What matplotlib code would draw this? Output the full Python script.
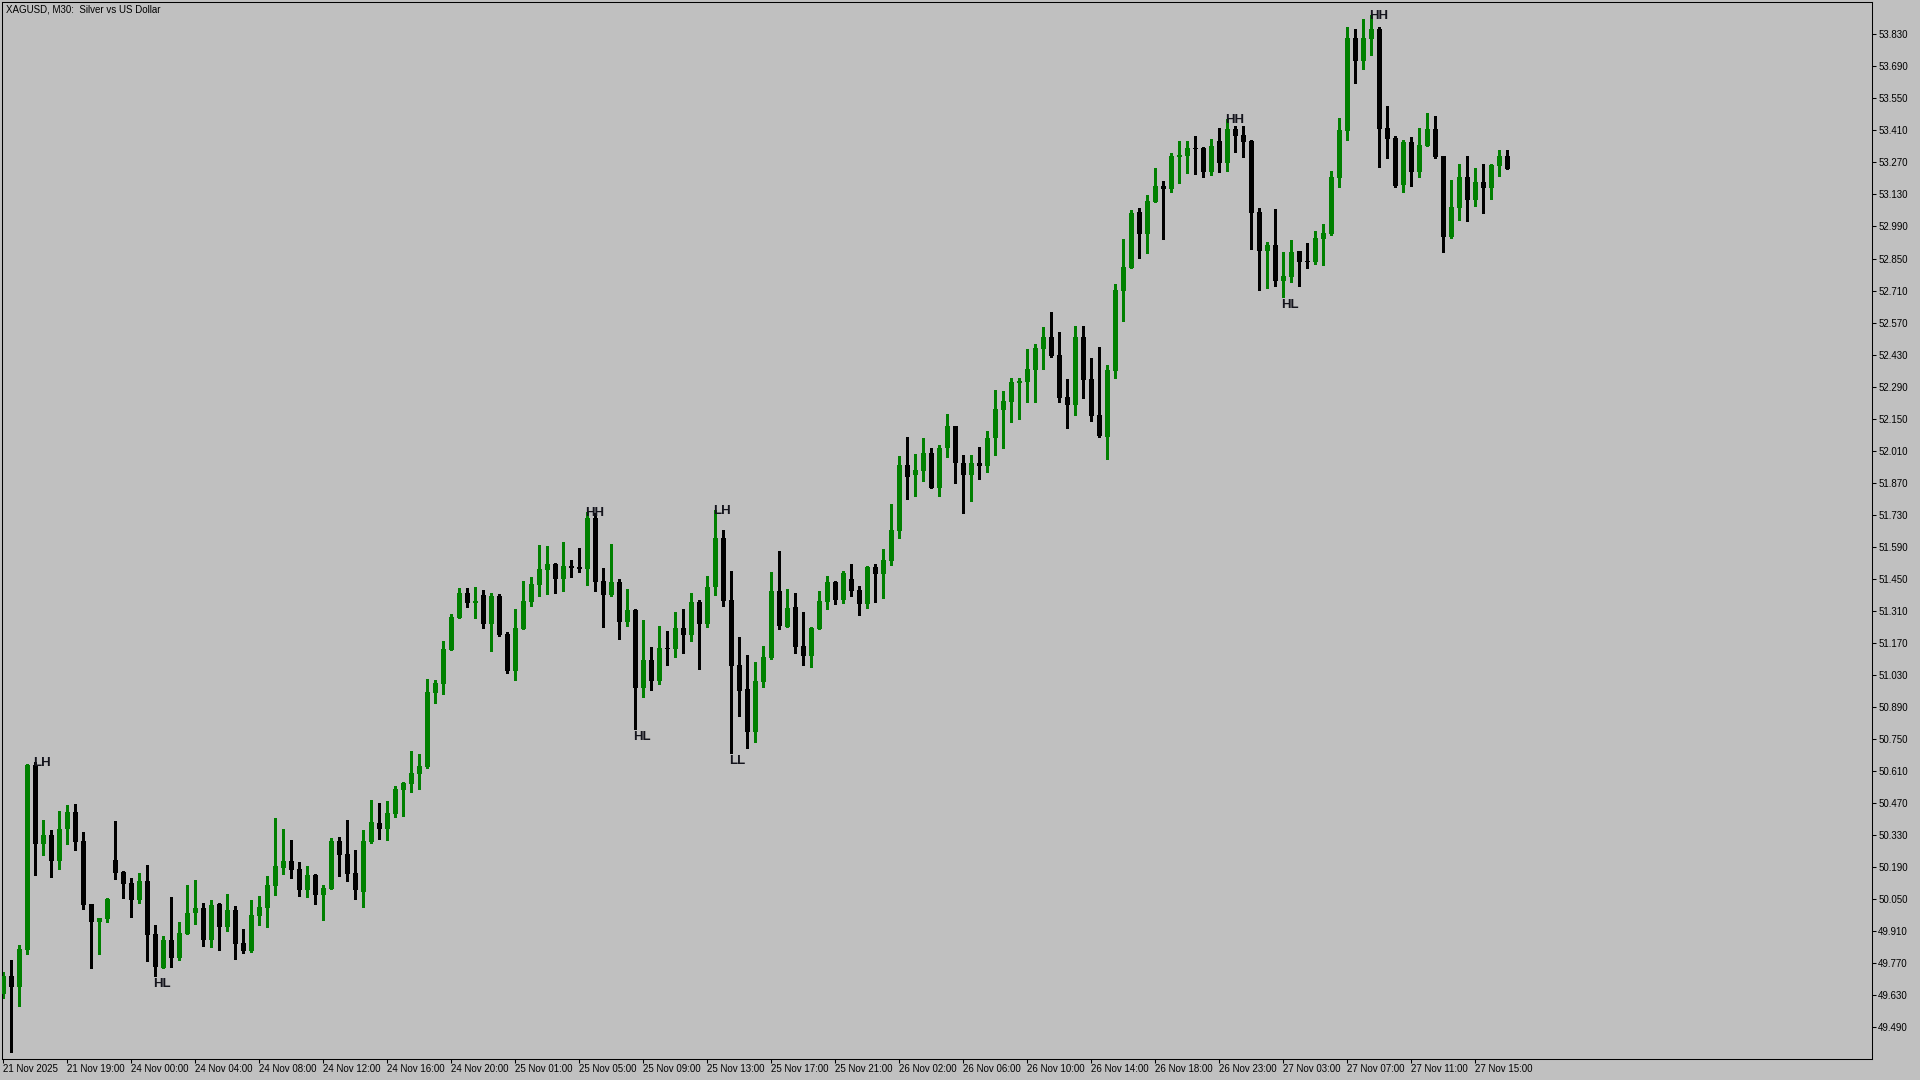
import numpy as np
import matplotlib
matplotlib.use('Agg')
import matplotlib.pyplot as plt
from matplotlib import font_manager

# XAGUSD M30 bars, 21 Nov 15:00 .. 27 Nov 17:00
opens = [49.635, 49.714, 49.668, 49.828, 50.637, 50.293, 50.331, 50.217, 50.357, 50.431,
         50.304, 50.029, 49.952, 49.963, 50.221, 50.169, 50.122, 50.046, 50.129, 49.898,
         49.750, 49.872, 49.794, 49.898, 49.990, 50.011, 49.873, 50.029, 49.930, 50.003,
         49.860, 49.825, 49.977, 50.011, 50.107, 50.186, 50.217, 50.182, 50.090, 50.156,
         50.068, 50.095, 50.304, 50.248, 50.164, 50.081, 50.300, 50.383, 50.357, 50.422,
         50.527, 50.553, 50.597, 50.628, 50.951, 50.990, 51.140, 51.279, 51.388, 51.345,
         51.379, 51.253, 51.375, 51.209, 51.047, 51.231, 51.349, 51.423, 51.489, 51.515,
         51.449, 51.506, 51.502, 51.493, 51.716, 51.441, 51.379, 51.436, 51.262, 51.314,
         50.973, 51.095, 51.004, 51.148, 51.144, 51.235, 51.205, 51.349, 51.253, 51.414,
         51.629, 51.358, 51.074, 50.969, 50.781, 51.000, 51.104, 51.397, 51.240, 51.327,
         51.157, 51.113, 51.231, 51.349, 51.436, 51.358, 51.449, 51.401, 51.340, 51.502,
         51.471, 51.528, 51.659, 51.948, 51.904, 51.921, 52.000, 51.848, 52.022, 52.118,
         51.955, 51.905, 51.955, 51.942, 52.064, 52.188, 52.223, 52.306, 52.310, 52.363,
         52.455, 52.507, 52.429, 52.245, 52.210, 52.507, 52.324, 52.166, 52.070, 52.359,
         52.708, 52.809, 53.053, 52.957, 53.098, 53.166, 53.155, 53.295, 53.299, 53.334,
         53.333, 53.228, 53.364, 53.268, 53.416, 53.390, 53.364, 53.053, 52.884, 52.909,
         52.752, 52.770, 52.883, 52.839, 52.835, 52.936, 52.957, 53.202, 53.407, 53.814,
         53.713, 53.809, 53.853, 53.421, 53.377, 53.171, 53.359, 53.228, 53.342, 53.416,
         53.298, 52.944, 53.071, 53.206, 53.106, 53.185, 53.158, 53.254, 53.298]
highs = [49.730, 49.784, 49.850, 50.640, 50.651, 50.396, 50.352, 50.436, 50.462, 50.466,
         50.342, 50.031, 49.970, 50.055, 50.392, 50.172, 50.141, 50.166, 50.200, 49.937,
         49.889, 50.058, 49.952, 50.112, 50.134, 50.033, 50.046, 50.033, 50.073, 50.020,
         49.920, 50.046, 50.064, 50.151, 50.405, 50.357, 50.309, 50.212, 50.195, 50.160,
         50.112, 50.317, 50.322, 50.396, 50.265, 50.352, 50.483, 50.470, 50.479, 50.545,
         50.562, 50.698, 50.685, 51.013, 51.008, 51.178, 51.297, 51.410, 51.410, 51.414,
         51.401, 51.388, 51.384, 51.218, 51.318, 51.441, 51.458, 51.598, 51.594, 51.519,
         51.611, 51.532, 51.585, 51.742, 51.738, 51.498, 51.602, 51.449, 51.406, 51.320,
         51.270, 51.152, 51.244, 51.222, 51.305, 51.318, 51.388, 51.358, 51.462, 51.751,
         51.664, 51.484, 51.196, 51.117, 51.087, 51.157, 51.480, 51.572, 51.406, 51.388,
         51.305, 51.240, 51.397, 51.462, 51.441, 51.484, 51.515, 51.419, 51.506, 51.515,
         51.580, 51.777, 51.987, 52.070, 51.996, 52.066, 52.022, 52.035, 52.171, 52.120,
         51.990, 51.990, 52.025, 52.095, 52.276, 52.271, 52.328, 52.328, 52.455, 52.477,
         52.551, 52.616, 52.529, 52.324, 52.555, 52.555, 52.415, 52.463, 52.385, 52.739,
         52.935, 53.062, 53.071, 53.128, 53.244, 53.188, 53.310, 53.364, 53.364, 53.386,
         53.338, 53.373, 53.421, 53.460, 53.429, 53.429, 53.368, 53.071, 52.922, 53.067,
         52.879, 52.931, 52.885, 52.918, 52.970, 53.001, 53.233, 53.464, 53.862, 53.853,
         53.897, 53.914, 53.862, 53.517, 53.386, 53.368, 53.381, 53.421, 53.486, 53.473,
         53.300, 53.193, 53.263, 53.298, 53.246, 53.263, 53.263, 53.324, 53.324]
lows = [49.620, 49.384, 49.585, 49.810, 50.156, 50.243, 50.148, 50.182, 50.293, 50.265,
        50.007, 49.751, 49.810, 49.950, 50.138, 50.055, 49.973, 50.035, 49.780, 49.716,
        49.750, 49.755, 49.784, 49.898, 49.943, 49.847, 49.842, 49.829, 49.912, 49.790,
        49.816, 49.820, 49.938, 49.930, 50.068, 50.160, 50.143, 50.064, 50.060, 50.029,
        49.959, 50.095, 50.151, 50.129, 50.051, 50.016, 50.296, 50.313, 50.309, 50.409,
        50.414, 50.518, 50.532, 50.624, 50.908, 50.947, 51.140, 51.279, 51.327, 51.280,
        51.235, 51.135, 51.200, 51.040, 51.008, 51.230, 51.332, 51.375, 51.384, 51.388,
        51.397, 51.458, 51.480, 51.423, 51.397, 51.240, 51.375, 51.187, 51.244, 50.794,
        50.934, 50.964, 50.990, 51.074, 51.109, 51.126, 51.178, 51.056, 51.240, 51.379,
        51.331, 50.689, 50.851, 50.711, 50.737, 50.978, 51.100, 51.231, 51.240, 51.126,
        51.074, 51.065, 51.230, 51.318, 51.340, 51.345, 51.375, 51.292, 51.323, 51.349,
        51.367, 51.511, 51.629, 51.799, 51.812, 51.878, 51.847, 51.813, 51.984, 51.870,
        51.739, 51.792, 51.888, 51.918, 51.991, 52.022, 52.136, 52.149, 52.223, 52.223,
        52.367, 52.420, 52.223, 52.110, 52.166, 52.240, 52.140, 52.070, 51.974, 52.328,
        52.577, 52.809, 52.852, 52.874, 53.095, 52.934, 53.142, 53.180, 53.224, 53.219,
        53.208, 53.215, 53.228, 53.233, 53.316, 53.294, 52.892, 52.713, 52.721, 52.730,
        52.682, 52.748, 52.730, 52.809, 52.826, 52.822, 52.953, 53.163, 53.368, 53.617,
        53.678, 53.740, 53.250, 53.289, 53.163, 53.141, 53.167, 53.206, 53.340, 53.289,
        52.879, 52.940, 53.018, 53.014, 53.080, 53.049, 53.110, 53.211, 53.240]
closes = [49.714, 49.668, 49.832, 50.637, 50.293, 50.331, 50.217, 50.357, 50.431, 50.301,
          50.025, 49.952, 49.968, 50.051, 50.166, 50.116, 50.046, 50.129, 49.894, 49.755,
          49.872, 49.794, 49.902, 49.990, 50.011, 49.873, 50.025, 49.930, 50.003, 49.855,
          49.825, 49.981, 50.016, 50.112, 50.195, 50.217, 50.178, 50.090, 50.156, 50.068,
          50.099, 50.304, 50.243, 50.160, 50.090, 50.304, 50.387, 50.357, 50.427, 50.532,
          50.558, 50.602, 50.632, 50.956, 50.995, 51.144, 51.283, 51.388, 51.345, 51.353,
          51.253, 51.375, 51.205, 51.047, 51.235, 51.353, 51.428, 51.493, 51.515, 51.449,
          51.506, 51.498, 51.493, 51.716, 51.436, 51.379, 51.436, 51.262, 51.314, 50.973,
          51.095, 51.004, 51.148, 51.144, 51.235, 51.205, 51.349, 51.253, 51.414, 51.629,
          51.353, 51.069, 50.960, 50.781, 51.004, 51.109, 51.397, 51.244, 51.323, 51.152,
          51.113, 51.235, 51.353, 51.436, 51.358, 51.476, 51.397, 51.340, 51.502, 51.471,
          51.532, 51.664, 51.948, 51.895, 51.926, 52.000, 51.848, 52.022, 52.118, 51.955,
          51.905, 51.955, 51.942, 52.064, 52.192, 52.227, 52.310, 52.315, 52.367, 52.459,
          52.507, 52.424, 52.240, 52.210, 52.507, 52.319, 52.162, 52.074, 52.363, 52.712,
          52.813, 53.049, 52.957, 53.101, 53.166, 53.155, 53.297, 53.301, 53.333, 53.330,
          53.228, 53.342, 53.268, 53.416, 53.386, 53.359, 53.049, 52.884, 52.909, 52.752,
          52.774, 52.879, 52.835, 52.834, 52.940, 52.962, 53.206, 53.412, 53.814, 53.713,
          53.814, 53.853, 53.416, 53.373, 53.167, 53.359, 53.228, 53.346, 53.416, 53.294,
          52.944, 53.075, 53.206, 53.106, 53.185, 53.158, 53.259, 53.298, 53.241]

time_labels = ['21 Nov 2025', '21 Nov 19:00', '24 Nov 00:00', '24 Nov 04:00', '24 Nov 08:00',
               '24 Nov 12:00', '24 Nov 16:00', '24 Nov 20:00', '25 Nov 01:00', '25 Nov 05:00',
               '25 Nov 09:00', '25 Nov 13:00', '25 Nov 17:00', '25 Nov 21:00', '26 Nov 02:00',
               '26 Nov 06:00', '26 Nov 10:00', '26 Nov 14:00', '26 Nov 18:00', '26 Nov 23:00',
               '27 Nov 03:00', '27 Nov 07:00', '27 Nov 11:00', '27 Nov 15:00']

# swing labels: bar index, text, which end of the bar
swing_bar = [4, 19, 73, 79, 89, 91, 153, 160, 171]
swing_text = ['LH', 'HL', 'HH', 'HL', 'LH', 'LL', 'HH', 'HL', 'HH']
swing_side = ['high', 'low', 'high', 'low', 'high', 'low', 'high', 'low', 'high']

title = 'XAGUSD, M30:  Silver vs US Dollar'


def pick_font():
    for name in ['Liberation Sans Narrow', 'Liberation Sans']:
        try:
            font_manager.findfont(font_manager.FontProperties(family=name),
                                  fallback_to_default=False)
            return name
        except ValueError:
            pass
    return 'DejaVu Sans'


def main():
    font = pick_font()
    narrow = font.endswith('Narrow')
    small = 7.7 if narrow else 7.0
    mark = 11.0 if narrow else 9.5
    plt.rcParams['font.family'] = [font, 'DejaVu Sans']

    bg = '#c0c0c0'
    up_col = '#008000'
    dn_col = '#000000'

    fig = plt.figure(figsize=(19.2, 10.8), dpi=100, facecolor=bg)
    ax = fig.add_axes([2 / 1920, 21 / 1080, 1870 / 1920, 1057 / 1080])
    ax.set_facecolor(bg)

    o = np.array(opens)
    h = np.array(highs)
    l = np.array(lows)
    c = np.array(closes)
    x = np.arange(len(o))
    cols = [up_col if cc >= oo else dn_col for oo, cc in zip(o, c)]

    # wicks then bodies
    ax.vlines(x, l, h, colors=cols, linewidth=0.75, antialiased=False, zorder=2)
    body_lo = np.minimum(o, c)
    body_h = np.maximum(np.abs(c - o), 0.0045)
    ax.bar(x, body_h, width=0.625, bottom=body_lo, color=cols, linewidth=0,
           antialiased=False, zorder=3)

    ax.set_xlim(-0.125, 233.625)
    ax.set_ylim(49.352, 53.971)

    # price axis on the right
    ax.yaxis.tick_right()
    yt = np.round(np.arange(49.49, 53.84, 0.14), 3)
    ax.set_yticks(yt)
    ax.set_yticklabels(['%.3f' % v for v in yt], fontsize=small)
    ax.tick_params(axis='y', direction='out', length=3, width=0.75, pad=1.5, colors='black')

    # time axis
    ax.set_xticks(x[::8][:len(time_labels)])
    ax.set_xticklabels(time_labels, fontsize=small, ha='left')
    ax.tick_params(axis='x', direction='out', length=3, width=0.75, pad=0.5, colors='black')

    for s in ax.spines.values():
        s.set_color('black')
        s.set_linewidth(0.75)

    # swing point markers
    cap = 0.72 * mark * 100 / 72
    for i, txt, side in zip(swing_bar, swing_text, swing_side):
        if side == 'high':
            y, dy = h[i], -4
        else:
            y, dy = l[i], -(cap + 1.5)
        ax.annotate(txt, xy=(i, y), xytext=(-1.5, dy), textcoords='offset pixels',
                    ha='left', va='baseline', fontsize=mark, fontweight='bold',
                    color='#14141c', zorder=5)

    fig.text(6 / 1920, 1 - 9 / 1080, title, fontsize=small, ha='left', va='center',
             color='black')

    fig.savefig('out.png', dpi=100, facecolor=bg)


if __name__ == '__main__':
    main()
